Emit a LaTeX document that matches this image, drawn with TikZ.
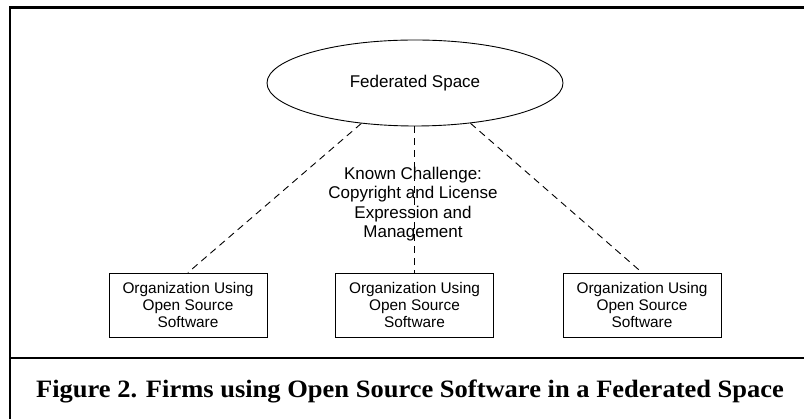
\documentclass[tikz,border=0pt]{standalone}
\usepackage{fontspec}
\setmainfont{Liberation Serif}
\newfontfamily\helv{Liberation Sans}
\usetikzlibrary{shapes.geometric}

\tikzset{
  orgbox/.style={draw, line width=0.9pt, minimum width=158pt, minimum height=64pt,
    inner sep=0pt, align=center, font=\helv\fontsize{15.4}{17}\selectfont},
  space/.style={draw, ellipse, line width=0.9pt, minimum width=296pt, minimum height=86pt,
    inner sep=0pt, font=\helv\fontsize{17}{19.3}\selectfont},
  note/.style={align=center, inner sep=0pt, font=\helv\fontsize{17}{19.3}\selectfont},
  link/.style={line width=0.9pt, dash pattern=on 7pt off 5pt},
  frameline/.style={line width=2.6pt},
}

\begin{document}
\begin{tikzpicture}[x=1pt, y=-1pt]
  \useasboundingbox (0,0) rectangle (804,419);

  % frame: top rule, left rule and the rule above the caption
  \coordinate (ftl) at (10,7.7);
  \coordinate (ftr) at (806,7.7);
  \coordinate (fbl) at (10,421);
  \coordinate (sl) at (10,358.3);
  \coordinate (sr) at (806,358.3);
  \draw[frameline] (ftr) -- (ftl) -- (fbl);
  \draw[line width=2.2pt] (sl) -- (sr);

  % central space
  \node[space] (fs) at (415,83) {Federated Space};

  % organizations
  \node[orgbox] (o1) at (188,305) {Organization Using\\Open Source\\Software};
  \node[orgbox] (o2) at (414.5,305) {Organization Using\\Open Source\\Software};
  \node[orgbox] (o3) at (642,305) {Organization Using\\Open Source\\Software};

  % links
  \draw[link] (fs.-143) -- (o1.north);
  \draw[link] (o2.north |- fs.south) -- (o2.north);
  \draw[link] (fs.-36) -- (o3.north);

  % challenge label over the middle link
  \node[note] (kc) at (413,204) {Known Challenge:\\Copyright and License\\Expression and\\Management};

  % caption
  \node[anchor=base, inner sep=0pt, font=\bfseries\fontsize{25}{28}\selectfont] (cap) at (410,398)
    {\scalebox{1.06}[1]{Figure 2. Firms using Open Source Software in a Federated Space}};
\end{tikzpicture}
\end{document}
